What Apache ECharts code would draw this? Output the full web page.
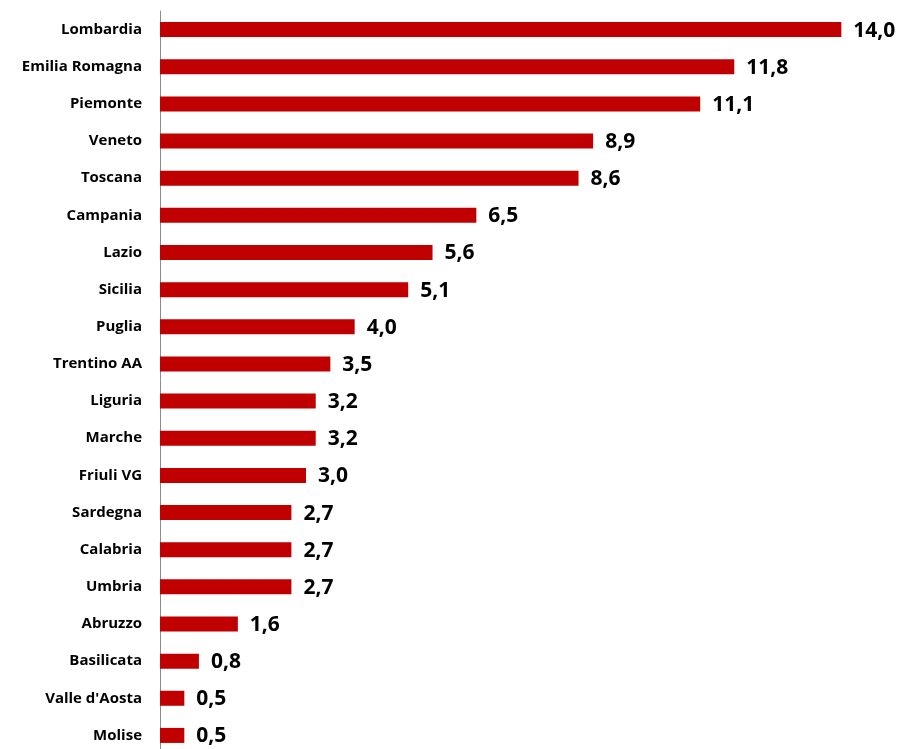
<!DOCTYPE html>
<html>
<head>
<meta charset="utf-8">
<script src="https://cdn.jsdelivr.net/npm/echarts@6/dist/echarts.min.js"></script>
<style>
  html, body { margin: 0; padding: 0; background: #fff; }
  #chart { width: 902px; height: 749px; }
</style>
</head>
<body>
<div id="chart"></div>
<script>
"use strict";

// regioni, dall'alto verso il basso
var regions = ['Lombardia', 'Emilia Romagna', 'Piemonte', 'Veneto', 'Toscana',
    'Campania', 'Lazio', 'Sicilia', 'Puglia', 'Trentino AA', 'Liguria', 'Marche',
    'Friuli VG', 'Sardegna', 'Calabria', 'Umbria', 'Abruzzo', 'Basilicata',
    "Valle d'Aosta", 'Molise'];

var shares = [14.0, 11.8, 11.1, 8.9, 8.6, 6.5, 5.6, 5.1, 4.0, 3.5, 3.2, 3.2,
    3.0, 2.7, 2.7, 2.7, 1.6, 0.8, 0.5, 0.5];

var chart = echarts.init(document.getElementById('chart'));

var options = {
    animation: false,
    grid: {
        left: 160,
        top: 11,
        width: 730,
        height: 743,
        outerBoundsMode: 'none'
    },
    xAxis: {
        type: 'value',
        min: 0,
        max: 15,
        show: false
    },
    yAxis: {
        type: 'category',
        data: regions,
        inverse: true,
        axisLine: {
            lineStyle: { color: '#8c8c8c', width: 1 }
        },
        axisTick: {
            length: 5,
            lineStyle: { color: '#8c8c8c' }
        },
        axisLabel: {
            margin: 18,
            color: '#000',
            fontFamily: 'Open Sans',
            fontWeight: 'bold',
            fontSize: 15
        }
    },
    series: [{
        type: 'bar',
        data: shares,
        barWidth: 15,
        itemStyle: { color: '#C00000' },
        label: {
            show: true,
            position: 'right',
            distance: 12,
            offset: [0, 1],
            color: '#000',
            fontFamily: 'Open Sans',
            fontWeight: 'bold',
            fontSize: 21,
            formatter: function (p) {
                return p.value.toFixed(1).replace('.', ',');
            }
        }
    }]
};

chart.setOption(options);
</script>
</body>
</html>
